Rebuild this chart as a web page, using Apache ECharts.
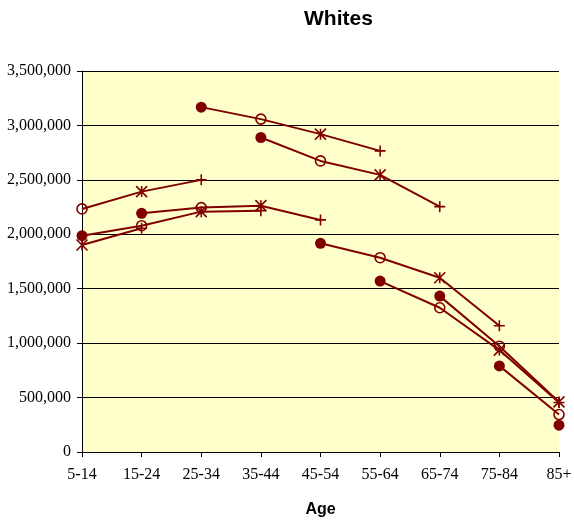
<!DOCTYPE html>
<html>
<head>
<meta charset="utf-8">
<script src="https://cdn.jsdelivr.net/npm/echarts@6/dist/echarts.min.js"></script>
<style>
  html, body { margin: 0; padding: 0; background: #ffffff; }
  #chart { width: 574px; height: 523px; }
</style>
</head>
<body>
<div id="chart"></div>
<script>
// Age groups along the horizontal axis
const ageGroups = ['5-14', '15-24', '25-34', '35-44', '45-54', '55-64', '65-74', '75-84', '85+'];

// Population by age group, one array per census round (oldest first)
const round1 = [1987000, 2193000, 3168000, 2889000, 1917000, 1570000, 1432000, 791000, 246000];
const round2 = [2233000, 2079000, 2245000, 3058000, 2674000, 1785000, 1325000, 972000, 344000];
const round3 = [1902000, 2392000, 2208000, 2263000, 2920000, 2546000, 1601000, 936000, 460000];
const round4 = [null, 2055000, 2500000, 2217000, 2132000, 2766000, 2254000, 1160000, 455000];

// Y axis ticks
const yTicks = [0, 500000, 1000000, 1500000, 2000000, 2500000, 3000000, 3500000];

const rounds = [round1, round2, round3, round4];
const dark = '#800000';

// Marker styles per round: filled circle, open circle, star, plus
const markerStyles = [
  { symbol: 'circle', size: 11, fill: dark, border: 0 },
  { symbol: 'circle', size: 10, fill: 'rgba(0,0,0,0)', border: 1.6 },
  { symbol: 'path://M0,0L10,10M10,0L0,10M5,0L5,10', size: 11, fill: 'rgba(0,0,0,0)', border: 1.6 },
  { symbol: 'path://M5,0L5,10M0,5L10,5', size: 11, fill: 'rgba(0,0,0,0)', border: 1.6 }
];

// Cohort lines: follow each age group into the next group one round later
const cohortSeries = [];
for (let r = 0; r < rounds.length; r++) {
  for (let a = 0; a < ageGroups.length; a++) {
    if (r !== 0 && a !== 0) continue; // only start diagonals at an edge
    const pts = [];
    for (let j = 0; r + j < rounds.length && a + j < ageGroups.length; j++) {
      const v = rounds[r + j][a + j];
      if (v == null) continue;
      pts.push([a + j, v]);
    }
    if (pts.length >= 2) {
      cohortSeries.push({
        type: 'line',
        data: pts,
        symbol: 'none',
        lineStyle: { color: dark, width: 2 },
        z: 2,
        silent: true
      });
    }
  }
}

// Markers for every round
const markerSeries = rounds.map((vals, r) => ({
  type: 'scatter',
  data: vals.map((v, i) => [i, v]).filter(p => p[1] != null),
  symbol: markerStyles[r].symbol,
  symbolSize: markerStyles[r].size,
  itemStyle: {
    color: markerStyles[r].fill,
    borderColor: dark,
    borderWidth: markerStyles[r].border,
    opacity: 1
  },
  z: 3 + r,
  silent: true
}));

const chart = echarts.init(document.getElementById('chart'), null, { renderer: 'canvas' });
chart.setOption({
  animation: false,
  backgroundColor: '#ffffff',
  title: {
    text: 'Whites',
    left: 299,
    top: 4,
    textStyle: { fontFamily: 'Liberation Sans', fontWeight: 'bold', fontSize: 21, color: '#000' }
  },
  grid: {
    left: 82, right: 15, top: 71, bottom: 71,
    outerBoundsMode: 'none',
    containLabel: false,
    show: true, backgroundColor: '#ffffcc', borderWidth: 0
  },
  xAxis: {
    type: 'category',
    data: ageGroups,
    boundaryGap: false,
    name: 'Age',
    nameLocation: 'middle',
    nameGap: 50,
    nameTextStyle: { fontFamily: 'Liberation Sans', fontWeight: 'bold', fontSize: 16, color: '#000' },
    axisLine: { lineStyle: { color: '#000', width: 1 } },
    axisTick: { show: true, inside: false, length: 5, alignWithLabel: true, lineStyle: { color: '#000' } },
    axisLabel: { margin: 15, fontFamily: 'Liberation Serif', fontSize: 16, color: '#000' },
    splitLine: { show: false }
  },
  yAxis: {
    type: 'value',
    min: yTicks[0],
    max: yTicks[yTicks.length - 1],
    interval: yTicks[1] - yTicks[0],
    axisLine: { show: true, lineStyle: { color: '#000', width: 1 } },
    axisTick: { show: true, inside: false, length: 5, lineStyle: { color: '#000' } },
    axisLabel: {
      margin: 11,
      fontFamily: 'Liberation Serif', fontSize: 16, color: '#000',
      formatter: v => v.toLocaleString('en-US')
    },
    splitLine: { show: true, lineStyle: { color: '#000', width: 1 } }
  },
  series: cohortSeries.concat(markerSeries)
});
</script>
</body>
</html>
